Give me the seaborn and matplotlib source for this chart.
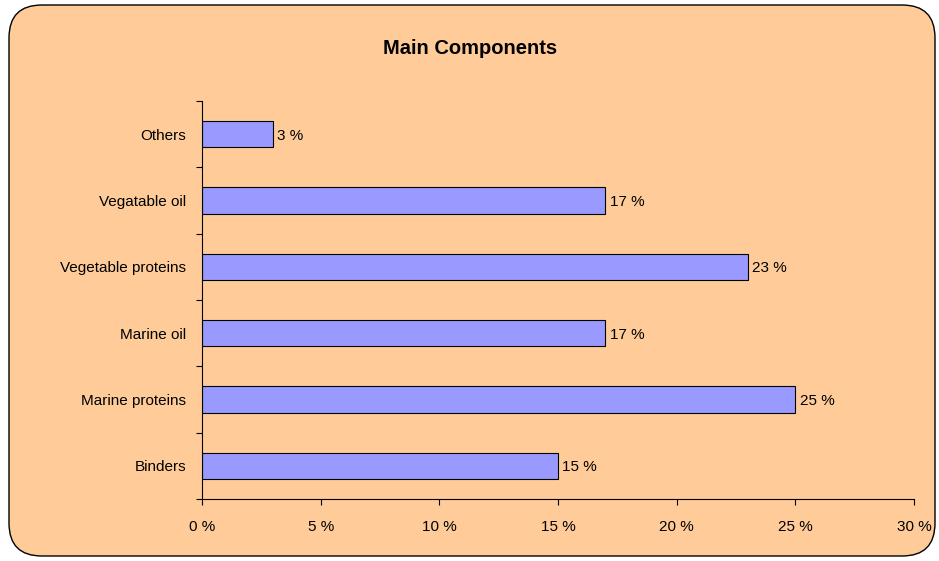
import matplotlib
matplotlib.use("Agg")
import matplotlib.pyplot as plt
import seaborn as sns
import pandas as pd
from matplotlib.patches import FancyBboxPatch
from matplotlib.ticker import FixedLocator, FuncFormatter

categories = ["Others", "Vegatable oil", "Vegetable proteins", "Marine oil", "Marine proteins", "Binders"]
values = [3, 17, 23, 17, 25, 15]
x_ticks = [0, 5, 10, 15, 20, 25, 30]

sns.set_style("white")
plt.rcParams["font.family"] = ["Liberation Sans", "DejaVu Sans"]

df = pd.DataFrame({"component": categories, "share": values})

fig = plt.figure(figsize=(9.39, 5.61), dpi=100)
fig.patch.set_facecolor("white")
border = FancyBboxPatch((9 / 939, 5 / 561), 926 / 939, 551 / 561,
                        boxstyle="round,pad=0,rounding_size=0.035",
                        transform=fig.transFigure, facecolor="#FFCC99",
                        edgecolor="black", linewidth=1.0, mutation_aspect=939 / 561,
                        zorder=-10)
fig.patches.append(border)

ax = fig.add_axes([202 / 939, 1 - 499 / 561, 712 / 939, 398 / 561])
ax.set_facecolor("none")
ax.set_zorder(5)

sns.barplot(data=df, y="component", x="share", order=categories, orient="h",
            color="#9999FF", saturation=1, width=0.4, edgecolor="black",
            linewidth=0.8, ax=ax)

ax.set_xlim(0, 30)
ax.set_ylim(5.5, -0.5)
ax.set_xticks(x_ticks)
ax.xaxis.set_major_formatter(FuncFormatter(lambda v, p: f"{int(v)} %"))
ax.yaxis.set_minor_locator(FixedLocator([i - 0.5 for i in range(len(categories) + 1)]))
ax.tick_params(axis="y", which="major", length=0, pad=11.5, labelsize=11, colors="black")
ax.tick_params(axis="y", which="minor", length=4, width=0.8, color="black", left=True)
ax.tick_params(axis="x", which="major", length=4, width=0.8, color="black", bottom=True,
               pad=11, labelsize=11, labelcolor="black")
ax.set_xlabel("")
ax.set_ylabel("")
for s in ["top", "right"]:
    ax.spines[s].set_visible(False)
for s in ["left", "bottom"]:
    ax.spines[s].set_color("black")
    ax.spines[s].set_linewidth(0.8)

for i, v in enumerate(values):
    ax.annotate(f"{v} %", xy=(v, i), xytext=(3, -1), textcoords="offset points",
                va="center", ha="left", fontsize=11, color="black")

fig.text(470 / 939, 1 - 48 / 561, "Main Components", ha="center", va="center",
         fontsize=14.5, fontweight="bold", color="black")

fig.savefig("out.png", dpi=100, facecolor=fig.get_facecolor())
